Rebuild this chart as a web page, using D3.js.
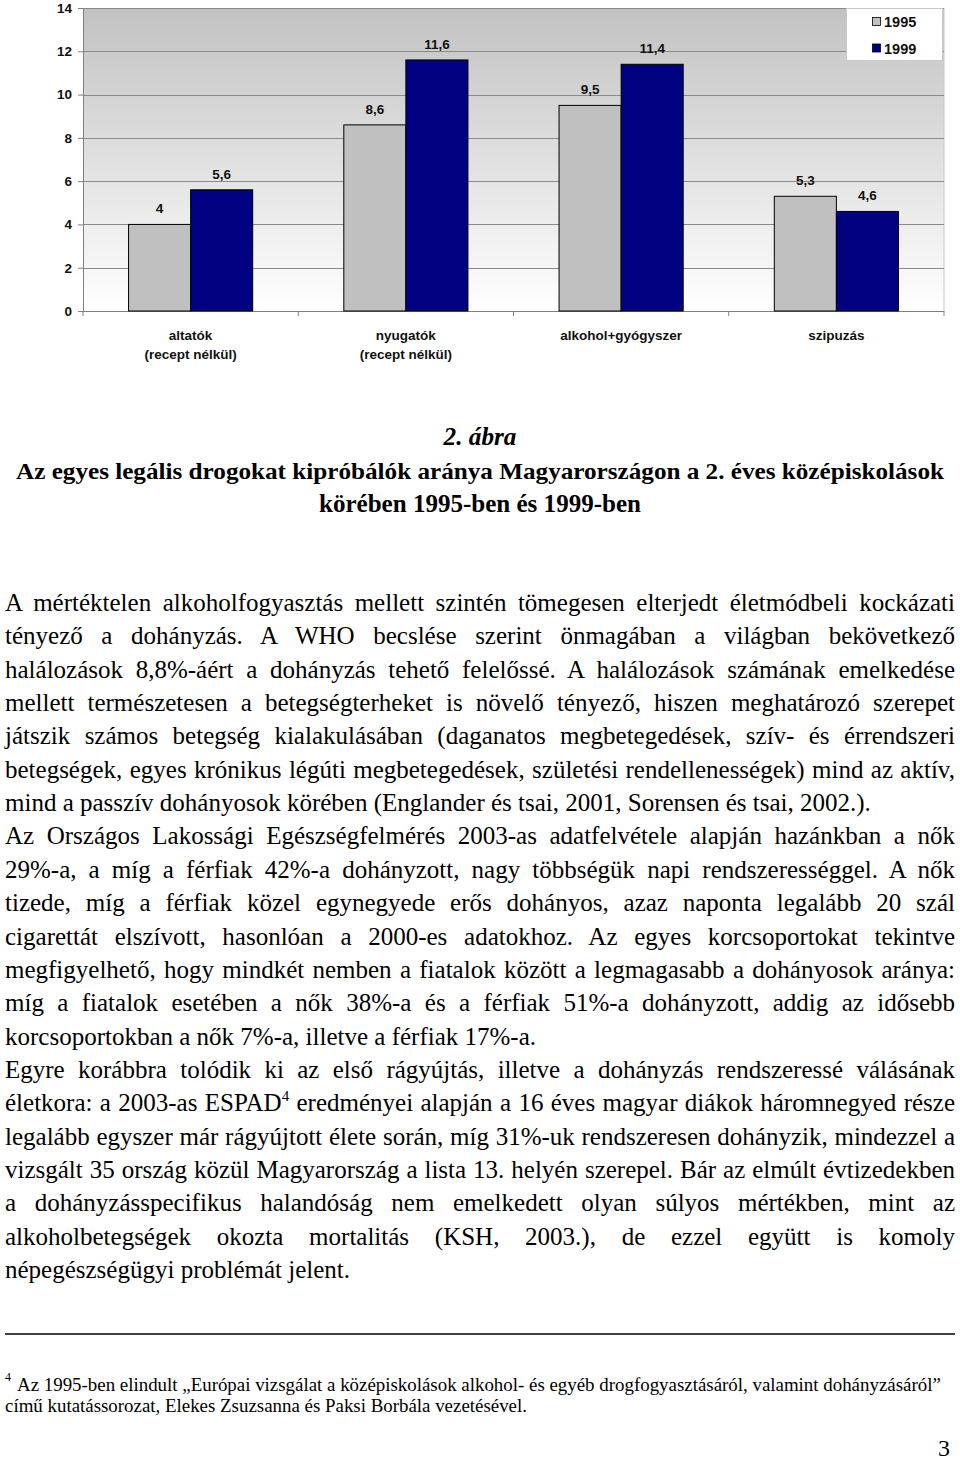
<!DOCTYPE html>
<html>
<head>
<meta charset="utf-8">
<script src="https://cdn.jsdelivr.net/npm/d3@7"></script>
<style>
  html, body { margin: 0; padding: 0; background: #fff; }
  svg { display: block; }
</style>
</head>
<body>
<svg id="page" width="960" height="1460"></svg>
<script>
// ---------- DATA ----------
const categories = [["altatók", "(recept nélkül)"], ["nyugatók", "(recept nélkül)"], ["alkohol+gyógyszer"], ["szipuzás"]];
const seriesNames = ["1995", "1999"];
const values1995 = [4, 8.6, 9.5, 5.3];
const values1999 = [5.6, 11.6, 11.4, 4.6];
const yTicks = [0, 2, 4, 6, 8, 10, 12, 14];

const captionLines = [
  {text: "2. ábra", italic: true},
  {text: "Az egyes legális drogokat kipróbálók aránya Magyarországon a 2. éves középiskolások", italic: false},
  {text: "körében 1995-ben és 1999-ben", italic: false}
];

// body lines: [text, justified]
const bodyLines = [
  ["A mértéktelen alkoholfogyasztás mellett szintén tömegesen elterjedt életmódbeli kockázati", true],
  ["tényező a dohányzás. A WHO becslése szerint önmagában a világban bekövetkező", true],
  ["halálozások 8,8%-áért a dohányzás tehető felelőssé. A halálozások számának emelkedése", true],
  ["mellett természetesen a betegségterheket is növelő tényező, hiszen meghatározó szerepet", true],
  ["játszik számos betegség kialakulásában (daganatos megbetegedések, szív- és érrendszeri", true],
  ["betegségek, egyes krónikus légúti megbetegedések, születési rendellenességek) mind az aktív,", true],
  ["mind a passzív dohányosok körében (Englander és tsai, 2001, Sorensen és tsai, 2002.).", false],
  ["Az Országos Lakossági Egészségfelmérés 2003-as adatfelvétele alapján hazánkban a nők", true],
  ["29%-a, a míg a férfiak 42%-a dohányzott, nagy többségük napi rendszerességgel. A nők", true],
  ["tizede, míg a férfiak közel egynegyede erős dohányos, azaz naponta legalább 20 szál", true],
  ["cigarettát elszívott, hasonlóan a 2000-es adatokhoz. Az egyes korcsoportokat tekintve", true],
  ["megfigyelhető, hogy mindkét nemben a fiatalok között a legmagasabb a dohányosok aránya:", true],
  ["míg a fiatalok esetében a nők 38%-a és a férfiak 51%-a dohányzott, addig az idősebb", true],
  ["korcsoportokban a nők 7%-a, illetve a férfiak 17%-a.", false],
  ["Egyre korábbra tolódik ki az első rágyújtás, illetve a dohányzás rendszeressé válásának", true],
  ["életkora: a 2003-as ESPAD{4} eredményei alapján a 16 éves magyar diákok háromnegyed része", true],
  ["legalább egyszer már rágyújtott élete során, míg 31%-uk rendszeresen dohányzik, mindezzel a", true],
  ["vizsgált 35 ország közül Magyarország a lista 13. helyén szerepel. Bár az elmúlt évtizedekben", true],
  ["a dohányzásspecifikus halandóság nem emelkedett olyan súlyos mértékben, mint az", true],
  ["alkoholbetegségek okozta mortalitás (KSH, 2003.), de ezzel együtt is komoly", true],
  ["népegészségügyi problémát jelent.", false]
];

const footnoteMark = "4";
const footnoteLines = [
  "Az 1995-ben elindult „Európai vizsgálat a középiskolások alkohol- és egyéb drogfogyasztásáról, valamint dohányzásáról”",
  "című kutatássorozat, Elekes Zsuzsanna és Paksi Borbála vezetésével."
];
const pageNumber = "3";

// ---------- CHART ----------
const svg = d3.select("#page");
const sans = "'Liberation Sans', Arial, sans-serif";
const serif = "'Liberation Serif', 'Times New Roman', serif";

const plot = {left: 83, right: 944, top: 8, bottom: 311};
const x = d3.scaleBand().domain(d3.range(categories.length)).range([plot.left, plot.right]).paddingInner(0).paddingOuter(0);
const xInner = d3.scaleBand().domain(seriesNames).range([0, x.bandwidth()]).paddingInner(0).paddingOuter(0.734);
const y = d3.scaleLinear().domain([0, 14]).range([plot.bottom, plot.top]);
const color = d3.scaleOrdinal().domain(seriesNames).range(["#c0c0c0", "#000080"]);

const defs = svg.append("defs");
const grad = defs.append("linearGradient").attr("id", "bg").attr("x1", 0).attr("y1", 0).attr("x2", 0).attr("y2", 1);
grad.append("stop").attr("offset", "0%").attr("stop-color", "#c2c2c2");
grad.append("stop").attr("offset", "100%").attr("stop-color", "#ffffff");

svg.append("rect")
  .attr("x", plot.left).attr("y", plot.top)
  .attr("width", plot.right - plot.left).attr("height", plot.bottom - plot.top)
  .attr("fill", "url(#bg)");

// right border of plot area
svg.append("line").attr("x1", plot.right).attr("x2", plot.right).attr("y1", plot.top).attr("y2", plot.bottom)
  .attr("stroke", "#c8c8c8").attr("stroke-width", 1);

// gridlines
svg.append("g").selectAll("line").data(yTicks.filter(d => d > 0)).join("line")
  .attr("x1", plot.left).attr("x2", plot.right)
  .attr("y1", d => Math.round(y(d)) + 0.5).attr("y2", d => Math.round(y(d)) + 0.5)
  .attr("stroke", "#8a8a8a").attr("stroke-width", 1.2);

// y axis
const yAxis = svg.append("g").attr("transform", `translate(${plot.left},0)`)
  .call(d3.axisLeft(y).tickValues(yTicks).tickSize(5).tickPadding(6).tickFormat(d3.format("d")));
yAxis.select(".domain").attr("stroke", "#808080");
yAxis.selectAll(".tick line").attr("stroke", "#808080");
yAxis.selectAll(".tick text").attr("font-family", sans).attr("font-size", 13.5)
  .attr("font-weight", "bold").attr("fill", "#111");

// x axis
const xAxisG = svg.append("g").attr("transform", `translate(0,${plot.bottom})`);
xAxisG.append("line").attr("x1", plot.left).attr("x2", plot.right).attr("y1", 0.5).attr("y2", 0.5)
  .attr("stroke", "#808080").attr("stroke-width", 1.2);
const boundaries = d3.range(categories.length + 1).map(i => i < categories.length ? x(i) : plot.right);
xAxisG.selectAll("line.tk").data(boundaries).join("line").attr("class", "tk")
  .attr("x1", d => d).attr("x2", d => d).attr("y1", 0).attr("y2", 5)
  .attr("stroke", "#808080");

// category labels
const catG = svg.append("g");
categories.forEach((lines, i) => {
  const t = catG.append("text")
    .attr("x", x(i) + x.bandwidth() / 2).attr("y", 340)
    .attr("text-anchor", "middle").attr("font-family", sans).attr("font-size", 13.5)
    .attr("font-weight", "bold").attr("fill", "#111");
  lines.forEach((ln, j) => {
    t.append("tspan").attr("x", x(i) + x.bandwidth() / 2).attr("dy", j === 0 ? 0 : 19).text(ln);
  });
});

// bars
const barData = [];
categories.forEach((c, i) => {
  barData.push({cat: i, s: "1995", v: values1995[i]});
  barData.push({cat: i, s: "1999", v: values1999[i]});
});
const fmt = v => String(v).replace(".", ",");

svg.append("g").selectAll("rect").data(barData).join("rect")
  .attr("x", d => x(d.cat) + xInner(d.s))
  .attr("y", d => y(d.v))
  .attr("width", xInner.bandwidth())
  .attr("height", d => y(0) - y(d.v))
  .attr("fill", d => color(d.s))
  .attr("stroke", "#000").attr("stroke-width", 1);

svg.append("g").selectAll("text").data(barData).join("text")
  .attr("x", d => x(d.cat) + xInner(d.s) + xInner.bandwidth() / 2)
  .attr("y", d => y(d.v) - 11)
  .attr("text-anchor", "middle").attr("font-family", sans).attr("font-size", 13.5)
  .attr("font-weight", "bold").attr("fill", "#111")
  .text(d => fmt(d.v));

// legend
const lg = svg.append("g");
lg.append("rect").attr("x", 846.5).attr("y", 8.5).attr("width", 96).attr("height", 52)
  .attr("fill", "#fff").attr("stroke", "#c8c8c8").attr("stroke-width", 1);
seriesNames.forEach((s, i) => {
  const cy = 22 + i * 26.5;
  lg.append("rect").attr("x", 872.5).attr("y", cy - 4.5).attr("width", 8).attr("height", 8)
    .attr("fill", color(s)).attr("stroke", "#000").attr("stroke-width", 0.8);
  lg.append("text").attr("x", 884).attr("y", cy + 5).attr("font-family", sans).attr("font-size", 14.5)
    .attr("font-weight", "bold").attr("fill", "#111").text(s);
});

// ---------- CAPTION ----------
const capY = [445, 479, 512];
const capW = [73, 928, 322];
const capSize = [26, 24, 26];
captionLines.forEach((c, i) => {
  const t = svg.append("text").attr("x", 480).attr("y", capY[i]).attr("text-anchor", "middle")
    .attr("font-family", serif).attr("font-size", capSize[i]).attr("font-weight", "bold")
    .attr("font-style", c.italic ? "italic" : "normal").attr("fill", "#000").text(c.text);
  if (capW[i]) t.attr("textLength", capW[i]).attr("lengthAdjust", "spacingAndGlyphs");
});

// ---------- BODY TEXT ----------
const bodyLeft = 5, bodyRight = 955, bodyTop = 611, lineH = 33.35, bodySize = 25;
bodyLines.forEach(([txt, just], i) => {
  const t = svg.append("text").attr("x", bodyLeft).attr("y", bodyTop + i * lineH)
    .attr("font-family", serif).attr("font-size", bodySize).attr("fill", "#000")
    .attr("xml:space", "preserve");
  const parts = txt.split(/\{(\d+)\}/);
  parts.forEach((p, k) => {
    if (k % 2 === 0) {
      if (p) t.append("tspan").attr("dy", k > 0 ? 10 : null).text(p);
    } else {
      t.append("tspan").attr("font-size", 15).attr("dy", -10).text(p);
    }
  });
  if (just) {
    const w = t.node().getComputedTextLength();
    const spaces = (txt.match(/ /g) || []).length;
    if (spaces > 0) t.style("word-spacing", ((bodyRight - bodyLeft - w) / spaces) + "px");
  }
});

// ---------- FOOTNOTE ----------
svg.append("line").attr("x1", 5).attr("x2", 955).attr("y1", 1334).attr("y2", 1334)
  .attr("stroke", "#000").attr("stroke-width", 1.5);
svg.append("text").attr("x", 5).attr("y", 1381).attr("font-family", serif).attr("font-size", 12)
  .attr("fill", "#000").text(footnoteMark);
svg.append("text").attr("x", 17).attr("y", 1391).attr("font-family", serif).attr("font-size", 18.9)
  .attr("fill", "#000").text(footnoteLines[0]);
svg.append("text").attr("x", 5).attr("y", 1412).attr("font-family", serif).attr("font-size", 18.9)
  .attr("fill", "#000").text(footnoteLines[1]);

svg.append("text").attr("x", 950).attr("y", 1456).attr("text-anchor", "end").attr("font-family", serif)
  .attr("font-size", 24).attr("fill", "#000").text(pageNumber);
</script>
</body>
</html>
